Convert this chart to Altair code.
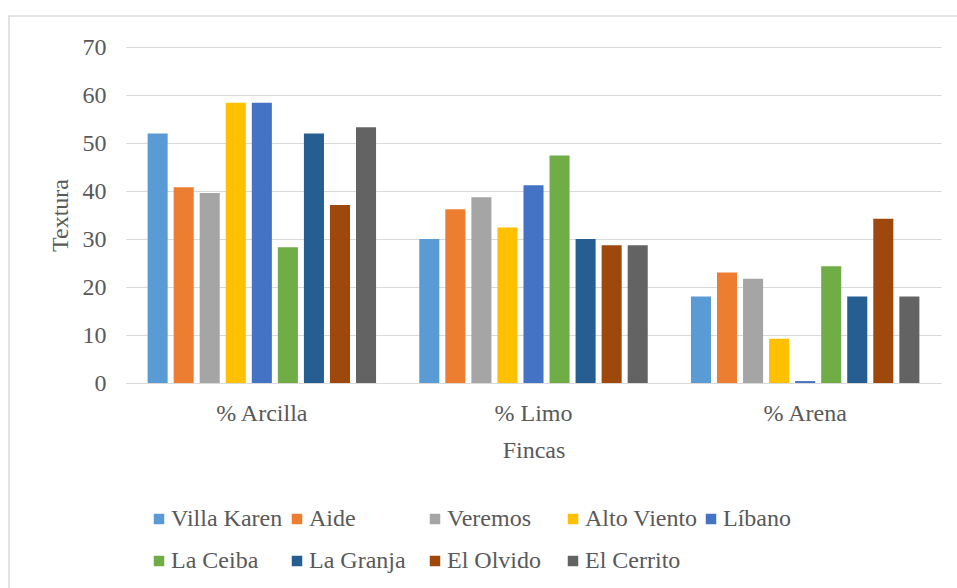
import altair as alt
import pandas as pd

# Soil texture (%) by farm
componentes = ["% Arcilla", "% Limo", "% Arena"]
fincas = ["Villa Karen", "Aide", "Veremos", "Alto Viento", "Líbano",
          "La Ceiba", "La Granja", "El Olvido", "El Cerrito"]
colores = ["#5B9BD5", "#ED7D31", "#A5A5A5", "#FFC000", "#4472C4",
           "#70AD47", "#255E91", "#9E480E", "#636363"]

arcilla = [52.0, 40.8, 39.6, 58.4, 58.4, 28.3, 52.0, 37.1, 53.3]
limo = [30.0, 36.2, 38.7, 32.4, 41.2, 47.4, 30.0, 28.7, 28.7]
arena = [18.0, 23.0, 21.7, 9.2, 0.4, 24.3, 18.0, 34.2, 18.0]

rows = []
for comp, vals in zip(componentes, [arcilla, limo, arena]):
    for finca, v in zip(fincas, vals):
        rows.append({"Componente": comp, "Finca": finca, "Valor": v})
df = pd.DataFrame(rows)

FONT = "Liberation Serif"
TXT = "#595959"
GRID = "#D9D9D9"
FS = 24

W, H = 815, 336
LEFT, TOP = 126, 47

bars = alt.Chart(df).mark_bar().encode(
    x=alt.X("Componente:N", sort=componentes,
            scale=alt.Scale(paddingInner=0.137, paddingOuter=0.0685),
            axis=alt.Axis(title="Fincas", labelAngle=0, ticks=False,
                          labelPadding=18, titlePadding=13,
                          domainColor=GRID, domainWidth=1)),
    xOffset=alt.XOffset("Finca:N", sort=fincas,
                        scale=alt.Scale(paddingInner=0.23, paddingOuter=0.115)),
    y=alt.Y("Valor:Q", scale=alt.Scale(domain=[0, 70]),
            axis=alt.Axis(title="Textura", values=list(range(0, 71, 10)),
                          ticks=False, domain=False, labelPadding=20,
                          titlePadding=10, gridColor=GRID, gridWidth=1)),
    color=alt.Color("Finca:N", sort=fincas,
                    scale=alt.Scale(domain=fincas, range=colores),
                    legend=alt.Legend(title=None, orient="none",
                                      legendX=21, legendY=460,
                                      direction="horizontal", columns=5,
                                      gridAlign="all",
                                      symbolType="square", symbolSize=110,
                                      symbolStrokeWidth=0, symbolOffset=0,
                                      labelOffset=0, columnPadding=1,
                                      rowPadding=18, labelLimit=300)),
)

# light frame around the chart
frame = alt.Chart(alt.Data(values=[{}])).mark_rect(
    fill=None, stroke=GRID, strokeWidth=1.5
).encode(
    x=alt.value(9 - LEFT), x2=alt.value(W + 100),
    y=alt.value(16 - TOP), y2=alt.value(H + 300),
)

chart = alt.layer(frame, bars).properties(
    width=W, height=H,
    background="white",
    autosize=alt.AutoSizeParams(type="none"),
    padding={"left": LEFT, "top": TOP, "right": 957 - LEFT - W, "bottom": 588 - TOP - H},
).configure_view(stroke=None).configure_axis(
    labelFont=FONT, titleFont=FONT, labelFontSize=FS, titleFontSize=FS,
    labelColor=TXT, titleColor=TXT, titleFontWeight="normal",
).configure_legend(
    labelFont=FONT, labelFontSize=FS, labelColor=TXT,
)

chart.save("out.html", embed_options={"renderer": "svg", "actions": False})
